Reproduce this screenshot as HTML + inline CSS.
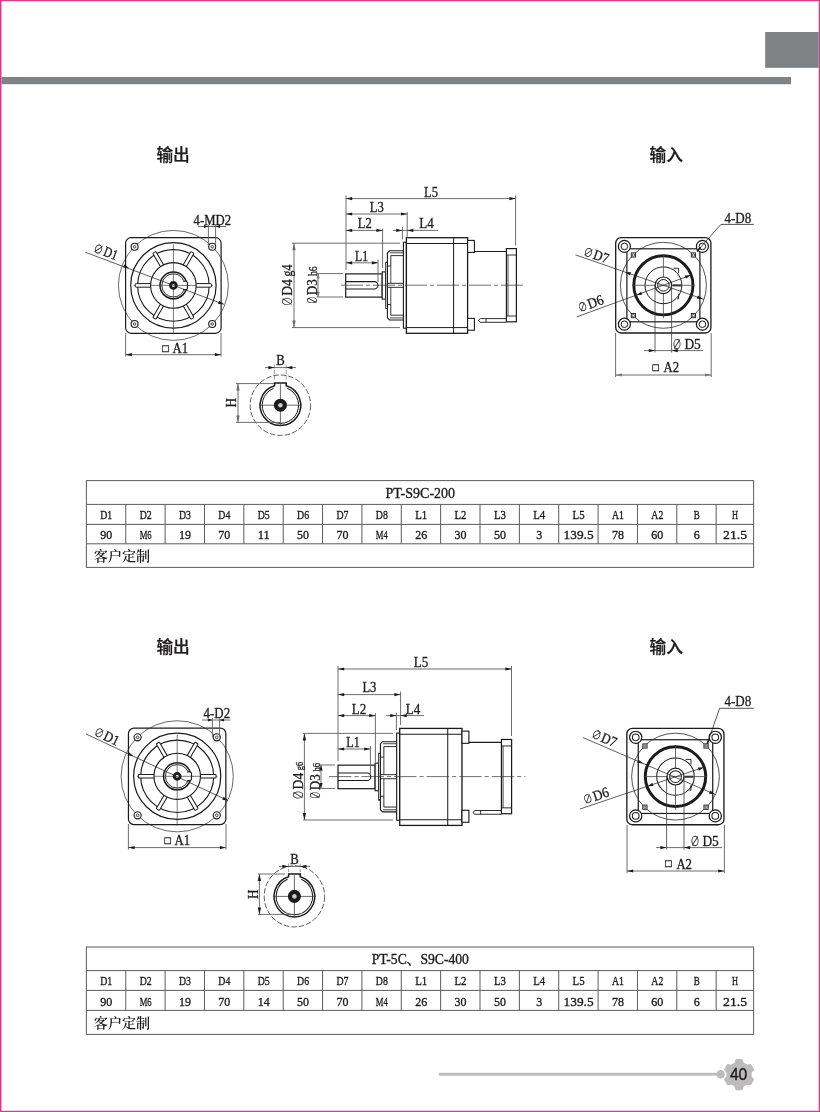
<!DOCTYPE html>
<html lang="zh-CN">
<head>
<meta charset="utf-8">
<title>PT-S9C-200 / PT-5C、S9C-400</title>
<style>
html,body{margin:0;padding:0;background:#fff;}
body{width:820px;height:1112px;overflow:hidden;position:relative;}
#page{position:absolute;left:0;top:0;width:820px;height:1112px;background:#fff;}
svg{position:absolute;left:0;top:0;display:block;will-change:transform;}
text{fill:#1c1a1a;}
.s{font-family:"Liberation Serif","Noto Serif CJK SC",serif;stroke:#1c1a1a;stroke-width:0.3px;}
.si{font-family:"Liberation Sans","Noto Sans CJK SC",sans-serif;font-style:italic;}
.a{font-family:"Liberation Sans","Noto Sans CJK SC",sans-serif;fill:#231f20;stroke:#231f20;stroke-width:0.4px;}
.h{font-family:"Liberation Sans","Noto Sans CJK SC",sans-serif;font-weight:500;stroke:#1c1a1a;stroke-width:0.25px;}
.t{font-family:"Liberation Serif","Noto Serif CJK SC",serif;stroke:#1c1a1a;stroke-width:0.35px;}
.c{font-family:"Liberation Serif","Noto Serif CJK SC",serif;font-weight:600;}
</style>
</head>
<body>
<div id="page"></div>
<svg width="820" height="1112" viewBox="0 0 820 1112">
<path d="M0 0H820V1112H0Z M1.5 1.2V1110.8H818.7V1.2Z" fill="#d83d8a" fill-rule="evenodd"/>
<rect x="1.5" y="77" width="789.5" height="7.2" fill="#808184"/>
<rect x="765.2" y="32" width="53.5" height="35.8" fill="#808184"/>
<rect x="439" y="1072.8" width="282" height="2.9" fill="#bcbcbd"/>
<circle cx="720.6" cy="1074.3" r="4.2" fill="#bcbcbd"/>
<polygon points="735.23,1063.35 736.38,1059.95 741.82,1059.95 742.97,1063.35 746.91,1065.62 750.43,1064.92 753.15,1069.63 750.78,1072.33 750.78,1076.87 753.15,1079.57 750.43,1084.28 746.91,1083.58 742.97,1085.85 741.82,1089.25 736.38,1089.25 735.23,1085.85 731.29,1083.58 727.77,1084.28 725.05,1079.57 727.42,1076.87 727.42,1072.33 725.05,1069.63 727.77,1064.92 731.29,1065.62" fill="#bcbcbd" stroke="#bcbcbd" stroke-width="1.8" stroke-linejoin="round"/>
<text class="a" x="738.6" y="1080.4" font-size="15.6" text-anchor="middle" textLength="17.4" lengthAdjust="spacingAndGlyphs">40</text>
<text class="h" x="173.1" y="160.8" font-size="16.7" text-anchor="middle">输出</text>
<text class="h" x="666.3" y="160.8" font-size="16.7" text-anchor="middle">输入</text>
<text class="h" x="173.1" y="652.8" font-size="16.7" text-anchor="middle">输出</text>
<text class="h" x="666.3" y="652.8" font-size="16.7" text-anchor="middle">输入</text>
<g transform="translate(173.4 285.4) scale(1 1)">
<rect x="-47.8" y="-47.7" width="95.5" height="95.6" rx="5.5" fill="none" stroke="#1c1a1a" stroke-width="1.2" />
<circle cx="0" cy="0" r="55" fill="none" stroke="#2a2a2a" stroke-width="0.7" />
<line x1="0" y1="-41" x2="0" y2="49" stroke="#444" stroke-width="0.7" />
<line x1="-39.5" y1="0" x2="39.5" y2="0" stroke="#444" stroke-width="0.7" />
<circle cx="0" cy="0" r="42.7" fill="none" stroke="#1c1a1a" stroke-width="1.2" />
<circle cx="0" cy="0" r="35.8" fill="none" stroke="#1c1a1a" stroke-width="1.1" />
<g transform="rotate(0)">
<path d="M22.6 -1.8 H37.3 Q38.1 -1.8 38.1 -1 V1 Q38.1 1.8 37.3 1.8 H22.6" fill="#fff" stroke="#1c1a1a" stroke-width="1.0" />
</g>
<g transform="rotate(60)">
<path d="M22.6 -1.8 H37.3 Q38.1 -1.8 38.1 -1 V1 Q38.1 1.8 37.3 1.8 H22.6" fill="#fff" stroke="#1c1a1a" stroke-width="1.0" />
</g>
<g transform="rotate(120)">
<path d="M22.6 -1.8 H37.3 Q38.1 -1.8 38.1 -1 V1 Q38.1 1.8 37.3 1.8 H22.6" fill="#fff" stroke="#1c1a1a" stroke-width="1.0" />
</g>
<g transform="rotate(180)">
<path d="M22.6 -1.8 H37.3 Q38.1 -1.8 38.1 -1 V1 Q38.1 1.8 37.3 1.8 H22.6" fill="#fff" stroke="#1c1a1a" stroke-width="1.0" />
</g>
<g transform="rotate(240)">
<path d="M22.6 -1.8 H37.3 Q38.1 -1.8 38.1 -1 V1 Q38.1 1.8 37.3 1.8 H22.6" fill="#fff" stroke="#1c1a1a" stroke-width="1.0" />
</g>
<g transform="rotate(300)">
<path d="M22.6 -1.8 H37.3 Q38.1 -1.8 38.1 -1 V1 Q38.1 1.8 37.3 1.8 H22.6" fill="#fff" stroke="#1c1a1a" stroke-width="1.0" />
</g>
<circle cx="0" cy="0" r="22.8" fill="none" stroke="#1c1a1a" stroke-width="1.1" />
<circle cx="0" cy="0" r="13.4" fill="#fff" stroke="#1c1a1a" stroke-width="1.5" />
<circle cx="0" cy="0" r="11.6" fill="none" stroke="#1c1a1a" stroke-width="0.9" />
<path d="M9.8 -4.2 H13.2 L14 -3 V3 L13.2 4.2 H9.8" fill="#fff" stroke="#1c1a1a" stroke-width="1.1" />
<line x1="-13" y1="0" x2="16" y2="0" stroke="#444" stroke-width="0.7" />
<line x1="0" y1="-13" x2="0" y2="13" stroke="#444" stroke-width="0.7" />
<circle cx="0" cy="0" r="2.9" fill="#eee" stroke="#1c1a1a" stroke-width="2.8" />
<circle cx="-38.8" cy="-38.6" r="3.5" fill="#fff" stroke="#1c1a1a" stroke-width="1.1" />
<circle cx="-38.8" cy="-38.6" r="1.3" fill="none" stroke="#1c1a1a" stroke-width="0.8" />
<circle cx="-38.8" cy="38.6" r="3.5" fill="#fff" stroke="#1c1a1a" stroke-width="1.1" />
<circle cx="-38.8" cy="38.6" r="1.3" fill="none" stroke="#1c1a1a" stroke-width="0.8" />
<circle cx="38.8" cy="-38.6" r="3.5" fill="#fff" stroke="#1c1a1a" stroke-width="1.1" />
<circle cx="38.8" cy="-38.6" r="1.3" fill="none" stroke="#1c1a1a" stroke-width="0.8" />
<circle cx="38.8" cy="38.6" r="3.5" fill="#fff" stroke="#1c1a1a" stroke-width="1.1" />
<circle cx="38.8" cy="38.6" r="1.3" fill="none" stroke="#1c1a1a" stroke-width="0.8" />
</g>
<line x1="85.5" y1="252.3" x2="223.8" y2="304.3" stroke="#2a2a2a" stroke-width="0.75" />
<polygon points="129,267.9 123.16,267.52 124.36,264.34" fill="#1c1a1a"/>
<polygon points="223.8,304.3 217.96,303.92 219.16,300.74" fill="#1c1a1a"/>
<g transform="translate(93.4 251.9) rotate(20.61)">
<text class="s" x="-0.6" y="0" font-size="12" textLength="9" lengthAdjust="spacingAndGlyphs">∅</text>
<text class="s" x="9.6" y="0" font-size="14.5" textLength="14.2" lengthAdjust="spacingAndGlyphs">D1</text>
</g>
<text class="s" x="193.6" y="224.6" font-size="14.3" text-anchor="start" textLength="37.4" lengthAdjust="spacingAndGlyphs" >4-MD2</text>
<line x1="198" y1="226.5" x2="226" y2="226.5" stroke="#5e5e5e" stroke-width="0.9" />
<line x1="208.4" y1="224.5" x2="208.4" y2="245" stroke="#5e5e5e" stroke-width="0.9" />
<line x1="215.6" y1="224.5" x2="215.6" y2="245" stroke="#5e5e5e" stroke-width="0.9" />
<polygon points="208.4,226.5 203.9,228.1 203.9,224.9" fill="#1c1a1a"/>
<polygon points="215.6,226.5 220.1,224.9 220.1,228.1" fill="#1c1a1a"/>
<line x1="125.6" y1="333" x2="125.6" y2="356.5" stroke="#5e5e5e" stroke-width="0.9" />
<line x1="221" y1="333" x2="221" y2="356.5" stroke="#5e5e5e" stroke-width="0.9" />
<line x1="125.6" y1="354.7" x2="221" y2="354.7" stroke="#5e5e5e" stroke-width="0.9" />
<polygon points="125.6,354.7 131.8,353.1 131.8,356.3" fill="#1c1a1a"/>
<polygon points="221,354.7 214.8,356.3 214.8,353.1" fill="#1c1a1a"/>
<text class="s" x="162.3" y="351.8" font-size="10.6" text-anchor="start" >□</text>
<text class="s" x="172.6" y="352.6" font-size="14" text-anchor="start" textLength="15.6" lengthAdjust="spacingAndGlyphs" >A1</text>
<g transform="matrix(1 0 0 1 0 0)">
<rect x="345.7" y="273.9" width="36.5" height="23.2" rx="0" fill="#fff" stroke="#1c1a1a" stroke-width="1.2" />
<path d="M345.7 281.6 H374.3 A3.7 3.7 0 0 1 374.3 289 H345.7" fill="none" stroke="#1c1a1a" stroke-width="1.1" />
<rect x="382.2" y="271.9" width="3.5" height="27.2" rx="0" fill="#fff" stroke="#1c1a1a" stroke-width="1.1" />
<rect x="385.7" y="262.2" width="1.8" height="46.3" rx="0" fill="#fff" stroke="#1c1a1a" stroke-width="0.9" />
<path d="M403.4 250.8 H389.5 L387.4 253 V317.8 L389.5 320 H403.4" fill="#fff" stroke="#1c1a1a" stroke-width="1.1" />
<path d="M403.4 252.8 H390" fill="none" stroke="#1c1a1a" stroke-width="0.8" />
<path d="M403.4 317.9 H390" fill="none" stroke="#1c1a1a" stroke-width="0.8" />
<path d="M403.4 255.6 H390.8 V266 H387.4" fill="none" stroke="#1c1a1a" stroke-width="0.9" />
<path d="M403.4 315.2 H390.8 V304.5 H387.4" fill="none" stroke="#1c1a1a" stroke-width="0.9" />
<line x1="390.8" y1="266" x2="390.8" y2="304.5" stroke="#1c1a1a" stroke-width="0.8" />
<rect x="387.4" y="283.3" width="16" height="4" rx="0" fill="#fff" stroke="#1c1a1a" stroke-width="0.9" />
<rect x="403.4" y="242.3" width="3" height="85.9" rx="0" fill="#fff" stroke="#1c1a1a" stroke-width="1.1" />
<rect x="406.4" y="237.7" width="61.2" height="95.6" rx="0" fill="#fff" stroke="#1c1a1a" stroke-width="1.3" />
<line x1="406.4" y1="243.5" x2="467.6" y2="243.5" stroke="#1c1a1a" stroke-width="1.0" />
<line x1="406.4" y1="327.6" x2="467.6" y2="327.6" stroke="#1c1a1a" stroke-width="1.0" />
<line x1="453.6" y1="237.7" x2="453.6" y2="333.3" stroke="#1c1a1a" stroke-width="1.0" />
<rect x="467.6" y="240.4" width="6.8" height="12" rx="0" fill="#fff" stroke="#1c1a1a" stroke-width="1.1" />
<rect x="467.6" y="318.4" width="6.8" height="11.8" rx="0" fill="#fff" stroke="#1c1a1a" stroke-width="1.1" />
<line x1="474.4" y1="251.5" x2="506.4" y2="251.5" stroke="#1c1a1a" stroke-width="1.1" />
<path d="M478.4 320.4 L480.5 318.6 H506.4 M478.4 320.4 L480 322.3 H506.4 M486 318.6 V322.3" fill="none" stroke="#1c1a1a" stroke-width="0.9" />
<rect x="506.4" y="248.6" width="10" height="73.2" rx="0" fill="#fff" stroke="#1c1a1a" stroke-width="1.2" />
<line x1="506.4" y1="255" x2="516.4" y2="255" stroke="#1c1a1a" stroke-width="0.9" />
<line x1="506.4" y1="316" x2="516.4" y2="316" stroke="#1c1a1a" stroke-width="0.9" />
<line x1="508" y1="255" x2="508" y2="316" stroke="#1c1a1a" stroke-width="0.8" />
<line x1="341" y1="285.2" x2="523" y2="285.2" stroke="#333" stroke-width="0.7" stroke-dasharray="22 3 4 3"/>
</g>
<line x1="346" y1="195.5" x2="346" y2="270" stroke="#5e5e5e" stroke-width="0.9" />
<line x1="515.6" y1="195.5" x2="515.6" y2="245.5" stroke="#5e5e5e" stroke-width="0.9" />
<line x1="346" y1="198.6" x2="515.6" y2="198.6" stroke="#5e5e5e" stroke-width="0.9" />
<polygon points="346,198.6 352.2,197 352.2,200.2" fill="#1c1a1a"/>
<polygon points="515.6,198.6 509.4,200.2 509.4,197" fill="#1c1a1a"/>
<text class="s" x="431" y="196.6" font-size="14.5" text-anchor="middle" textLength="14" lengthAdjust="spacingAndGlyphs" >L5</text>
<line x1="407.2" y1="212" x2="407.2" y2="238" stroke="#5e5e5e" stroke-width="0.9" />
<line x1="346" y1="214" x2="407.2" y2="214" stroke="#5e5e5e" stroke-width="0.9" />
<polygon points="346,214 352.2,212.4 352.2,215.6" fill="#1c1a1a"/>
<polygon points="407.2,214 401,215.6 401,212.4" fill="#1c1a1a"/>
<text class="s" x="376.8" y="212" font-size="14.5" text-anchor="middle" textLength="14" lengthAdjust="spacingAndGlyphs" >L3</text>
<line x1="382.6" y1="228.6" x2="382.6" y2="268" stroke="#5e5e5e" stroke-width="0.9" />
<line x1="346" y1="230.4" x2="382.6" y2="230.4" stroke="#5e5e5e" stroke-width="0.9" />
<polygon points="346,230.4 352.2,228.8 352.2,232" fill="#1c1a1a"/>
<polygon points="382.6,230.4 376.4,232 376.4,228.8" fill="#1c1a1a"/>
<text class="s" x="364.8" y="228.4" font-size="14.5" text-anchor="middle" textLength="14" lengthAdjust="spacingAndGlyphs" >L2</text>
<line x1="393" y1="230.4" x2="438" y2="230.4" stroke="#5e5e5e" stroke-width="0.9" />
<line x1="402.4" y1="227" x2="402.4" y2="239.5" stroke="#5e5e5e" stroke-width="0.9" />
<polygon points="402.4,230.4 396.2,232 396.2,228.8" fill="#1c1a1a"/>
<polygon points="407.2,230.4 413.4,228.8 413.4,232" fill="#1c1a1a"/>
<text class="s" x="426.5" y="228.4" font-size="14.5" text-anchor="middle" textLength="14.5" lengthAdjust="spacingAndGlyphs" >L4</text>
<line x1="378" y1="259.5" x2="378" y2="282" stroke="#5e5e5e" stroke-width="0.9" />
<line x1="346" y1="262.8" x2="378" y2="262.8" stroke="#5e5e5e" stroke-width="0.9" />
<polygon points="346,262.8 352.2,261.2 352.2,264.4" fill="#1c1a1a"/>
<polygon points="378,262.8 371.8,264.4 371.8,261.2" fill="#1c1a1a"/>
<text class="s" x="361.6" y="261" font-size="14.5" text-anchor="middle" textLength="13" lengthAdjust="spacingAndGlyphs" >L1</text>
<line x1="292" y1="243.2" x2="400" y2="243.2" stroke="#5e5e5e" stroke-width="0.9" />
<line x1="292" y1="327.6" x2="400" y2="327.6" stroke="#5e5e5e" stroke-width="0.9" />
<line x1="294" y1="243.2" x2="294" y2="327.6" stroke="#5e5e5e" stroke-width="0.9" />
<polygon points="294,243.2 295.7,250.2 292.3,250.2" fill="#6a6a6a"/>
<polygon points="294,327.6 292.3,320.6 295.7,320.6" fill="#6a6a6a"/>
<g transform="translate(292.4 305.4) rotate(-90)">
<text class="s" x="-0.6" y="0" font-size="12" textLength="9" lengthAdjust="spacingAndGlyphs">∅</text>
<text class="s" x="9.6" y="0" font-size="15" textLength="16.6" lengthAdjust="spacingAndGlyphs">D4</text>
<text class="s" x="29" y="0" font-size="15" textLength="11.7" lengthAdjust="spacingAndGlyphs">g4</text>
</g>
<line x1="316.5" y1="273.6" x2="343" y2="273.6" stroke="#5e5e5e" stroke-width="0.9" />
<line x1="316.5" y1="297" x2="343" y2="297" stroke="#5e5e5e" stroke-width="0.9" />
<line x1="318" y1="273.6" x2="318" y2="297" stroke="#5e5e5e" stroke-width="0.9" />
<polygon points="318.2,273.6 319.7,278.6 316.7,278.6" fill="#777"/>
<polygon points="318.2,297 316.7,292 319.7,292" fill="#777"/>
<g transform="translate(317 303.4) rotate(-90)">
<text class="s" x="-0.6" y="0" font-size="12" textLength="7.6" lengthAdjust="spacingAndGlyphs">∅</text>
<text class="s" x="8.2" y="0" font-size="15" textLength="16" lengthAdjust="spacingAndGlyphs">D3</text>
<text class="s" x="27.4" y="0" font-size="12" textLength="9.7" lengthAdjust="spacingAndGlyphs">h6</text>
</g>
<g transform="translate(663.4 285.3) scale(1 1)">
<rect x="-47.7" y="-47.7" width="95.2" height="95.4" rx="5.5" fill="none" stroke="#1c1a1a" stroke-width="1.3" />
<rect x="-36.5" y="-36.5" width="73" height="73" rx="0" fill="none" stroke="#1c1a1a" stroke-width="1.2" />
<circle cx="0" cy="0" r="43" fill="none" stroke="#2a2a2a" stroke-width="0.8" />
<circle cx="-39" cy="-38.9" r="6" fill="#fff" stroke="#1c1a1a" stroke-width="1.2" />
<circle cx="-39" cy="-38.9" r="3.3" fill="none" stroke="#1c1a1a" stroke-width="1.0" />
<circle cx="-39" cy="38.9" r="6" fill="#fff" stroke="#1c1a1a" stroke-width="1.2" />
<circle cx="-39" cy="38.9" r="3.3" fill="none" stroke="#1c1a1a" stroke-width="1.0" />
<circle cx="39" cy="-38.9" r="6" fill="#fff" stroke="#1c1a1a" stroke-width="1.2" />
<circle cx="39" cy="-38.9" r="3.3" fill="none" stroke="#1c1a1a" stroke-width="1.0" />
<circle cx="39" cy="38.9" r="6" fill="#fff" stroke="#1c1a1a" stroke-width="1.2" />
<circle cx="39" cy="38.9" r="3.3" fill="none" stroke="#1c1a1a" stroke-width="1.0" />
<rect x="-32.1" y="-32.4" width="4.2" height="4.2" rx="0" fill="#fff" stroke="#1c1a1a" stroke-width="0.9" />
<circle cx="-30" cy="-30.3" r="1.2" fill="none" stroke="#1c1a1a" stroke-width="0.7" />
<rect x="-32.1" y="28.2" width="4.2" height="4.2" rx="0" fill="#fff" stroke="#1c1a1a" stroke-width="0.9" />
<circle cx="-30" cy="30.3" r="1.2" fill="none" stroke="#1c1a1a" stroke-width="0.7" />
<rect x="27.9" y="-32.4" width="4.2" height="4.2" rx="0" fill="#fff" stroke="#1c1a1a" stroke-width="0.9" />
<circle cx="30" cy="-30.3" r="1.2" fill="none" stroke="#1c1a1a" stroke-width="0.7" />
<rect x="27.9" y="28.2" width="4.2" height="4.2" rx="0" fill="#fff" stroke="#1c1a1a" stroke-width="0.9" />
<circle cx="30" cy="30.3" r="1.2" fill="none" stroke="#1c1a1a" stroke-width="0.7" />
<circle cx="0" cy="0" r="29.6" fill="none" stroke="#1c1a1a" stroke-width="2.9" />
<circle cx="0" cy="0" r="18.4" fill="none" stroke="#1c1a1a" stroke-width="1.0" />
<line x1="0" y1="-31" x2="0" y2="33" stroke="#444" stroke-width="0.8" />
<line x1="-31" y1="0" x2="31" y2="0" stroke="#444" stroke-width="0.8" />
<path d="M10 -17 h5.2 v5" fill="none" stroke="#1c1a1a" stroke-width="0.9" />
<path d="M15.2 8.5 v5 h-1.5" fill="none" stroke="#1c1a1a" stroke-width="0.9" />
<circle cx="0" cy="0" r="8.3" fill="#fff" stroke="#1c1a1a" stroke-width="1.2" />
<circle cx="0" cy="0" r="5.8" fill="none" stroke="#1c1a1a" stroke-width="1.0" />
<line x1="-5" y1="0" x2="5" y2="0" stroke="#5e5e5e" stroke-width="0.8" />
<line x1="9.2" y1="0.1" x2="17.6" y2="0.1" stroke="#333" stroke-width="2.0" />
</g>
<line x1="575.5" y1="254.9" x2="704" y2="299.4" stroke="#2a2a2a" stroke-width="0.75" />
<polygon points="625.2,272.1 631.05,272.33 629.94,275.54" fill="#1c1a1a"/>
<polygon points="702.6,298.9 696.75,298.67 697.86,295.46" fill="#1c1a1a"/>
<g transform="translate(583.2 255.4) rotate(19.1)">
<text class="s" x="-0.6" y="0" font-size="12" textLength="9" lengthAdjust="spacingAndGlyphs">∅</text>
<text class="s" x="9.6" y="0" font-size="14.5" textLength="15.5" lengthAdjust="spacingAndGlyphs">D7</text>
</g>
<line x1="691.5" y1="274.9" x2="576.7" y2="316.9" stroke="#2a2a2a" stroke-width="0.75" />
<polygon points="690.6,275.2 685.93,278.72 684.76,275.53" fill="#1c1a1a"/>
<polygon points="636.4,295.2 641.07,291.68 642.24,294.87" fill="#1c1a1a"/>
<g transform="translate(580.6 312.4) rotate(339.9)">
<text class="s" x="-0.6" y="0" font-size="12" textLength="9" lengthAdjust="spacingAndGlyphs">∅</text>
<text class="s" x="9.6" y="0" font-size="14.5" textLength="16" lengthAdjust="spacingAndGlyphs">D6</text>
</g>
<line x1="655" y1="285" x2="655" y2="352.5" stroke="#3a3a3a" stroke-width="0.8" />
<line x1="671.6" y1="285" x2="671.6" y2="352.5" stroke="#3a3a3a" stroke-width="0.8" />
<line x1="644" y1="350.6" x2="703" y2="350.6" stroke="#5e5e5e" stroke-width="0.9" />
<polygon points="655,350.6 648.8,352.2 648.8,349" fill="#1c1a1a"/>
<polygon points="671.6,350.6 677.8,349 677.8,352.2" fill="#1c1a1a"/>
<g transform="translate(673 349) rotate(0)">
<text class="s" x="-0.6" y="0" font-size="12" textLength="9" lengthAdjust="spacingAndGlyphs">∅</text>
<text class="s" x="11.4" y="0" font-size="14.5" textLength="16.4" lengthAdjust="spacingAndGlyphs">D5</text>
</g>
<line x1="615.6" y1="333" x2="615.6" y2="377" stroke="#5e5e5e" stroke-width="0.9" />
<line x1="711.2" y1="333" x2="711.2" y2="377" stroke="#5e5e5e" stroke-width="0.9" />
<line x1="615.6" y1="375" x2="711.2" y2="375" stroke="#5e5e5e" stroke-width="0.9" />
<polygon points="615.6,375 621.8,373.4 621.8,376.6" fill="#777"/>
<polygon points="711.2,375 705,376.6 705,373.4" fill="#777"/>
<text class="s" x="652.6" y="371.2" font-size="10.6" text-anchor="start" >□</text>
<text class="s" x="663.6" y="372.4" font-size="14" text-anchor="start" textLength="15.6" lengthAdjust="spacingAndGlyphs" >A2</text>
<path d="M697.5 250.8 L720.9 224.4 H753.8" fill="none" stroke="#2a2a2a" stroke-width="0.8" />
<line x1="697" y1="251.4" x2="700.5" y2="247.4" stroke="#1c1a1a" stroke-width="1.6" />
<text class="s" x="724.5" y="223" font-size="15.5" text-anchor="start" textLength="26.8" lengthAdjust="spacingAndGlyphs" >4-D8</text>
<g transform="translate(280.4 405.2) scale(1 1)">
<circle cx="0" cy="0" r="30.2" fill="none" stroke="#333" stroke-width="0.8" stroke-dasharray="5.5 2"/>
<path d="M-5.8 -19.4 A20.3 20.3 0 1 0 5.8 -19.4 V-22.2 H-5.8 Z" fill="#fff" stroke="#1c1a1a" stroke-width="1.5" />
<path d="M-6.8 -16.9 A18.2 18.2 0 1 0 6.8 -16.9" fill="none" stroke="#1c1a1a" stroke-width="1.0" />
<line x1="-21.5" y1="0" x2="21.5" y2="0" stroke="#444" stroke-width="0.8" />
<line x1="0" y1="-21" x2="0" y2="21" stroke="#444" stroke-width="0.8" />
<circle cx="0" cy="0" r="4.4" fill="#ccc" stroke="#1c1a1a" stroke-width="4.2" />
</g>
<line x1="236" y1="383.6" x2="274" y2="383.6" stroke="#5e5e5e" stroke-width="0.9" />
<line x1="236" y1="422.4" x2="280" y2="422.4" stroke="#5e5e5e" stroke-width="0.9" />
<line x1="238" y1="383.6" x2="238" y2="422.4" stroke="#5e5e5e" stroke-width="0.9" />
<polygon points="238,383.6 239.7,390.6 236.3,390.6" fill="#6a6a6a"/>
<polygon points="238,422.4 236.3,415.4 239.7,415.4" fill="#6a6a6a"/>
<text class="s" x="236.5" y="402.8" font-size="14" text-anchor="middle" textLength="9.5" lengthAdjust="spacingAndGlyphs" transform="rotate(-90 236.5 402.8)" >H</text>
<line x1="265" y1="367.6" x2="296" y2="367.6" stroke="#5e5e5e" stroke-width="0.9" />
<line x1="274.6" y1="364.5" x2="274.6" y2="381" stroke="#5e5e5e" stroke-width="0.6" stroke-dasharray="4 1.5"/>
<line x1="286.2" y1="364.5" x2="286.2" y2="381" stroke="#5e5e5e" stroke-width="0.6" stroke-dasharray="4 1.5"/>
<polygon points="274.6,367.6 268.4,369.2 268.4,366" fill="#1c1a1a"/>
<polygon points="286.2,367.6 292.4,366 292.4,369.2" fill="#1c1a1a"/>
<text class="s" x="280.6" y="365.4" font-size="14" text-anchor="middle" textLength="8.5" lengthAdjust="spacingAndGlyphs" >B</text>
<g transform="translate(177.2 776.3) scale(1.02 1.01)">
<rect x="-47.8" y="-47.7" width="95.5" height="95.6" rx="5.5" fill="none" stroke="#1c1a1a" stroke-width="1.2" />
<circle cx="0" cy="0" r="55" fill="none" stroke="#2a2a2a" stroke-width="0.7" />
<line x1="0" y1="-41" x2="0" y2="49" stroke="#444" stroke-width="0.7" />
<line x1="-39.5" y1="0" x2="39.5" y2="0" stroke="#444" stroke-width="0.7" />
<circle cx="0" cy="0" r="42.7" fill="none" stroke="#1c1a1a" stroke-width="1.2" />
<circle cx="0" cy="0" r="35.8" fill="none" stroke="#1c1a1a" stroke-width="1.1" />
<g transform="rotate(0)">
<path d="M22.6 -1.8 H37.3 Q38.1 -1.8 38.1 -1 V1 Q38.1 1.8 37.3 1.8 H22.6" fill="#fff" stroke="#1c1a1a" stroke-width="1.0" />
</g>
<g transform="rotate(60)">
<path d="M22.6 -1.8 H37.3 Q38.1 -1.8 38.1 -1 V1 Q38.1 1.8 37.3 1.8 H22.6" fill="#fff" stroke="#1c1a1a" stroke-width="1.0" />
</g>
<g transform="rotate(120)">
<path d="M22.6 -1.8 H37.3 Q38.1 -1.8 38.1 -1 V1 Q38.1 1.8 37.3 1.8 H22.6" fill="#fff" stroke="#1c1a1a" stroke-width="1.0" />
</g>
<g transform="rotate(180)">
<path d="M22.6 -1.8 H37.3 Q38.1 -1.8 38.1 -1 V1 Q38.1 1.8 37.3 1.8 H22.6" fill="#fff" stroke="#1c1a1a" stroke-width="1.0" />
</g>
<g transform="rotate(240)">
<path d="M22.6 -1.8 H37.3 Q38.1 -1.8 38.1 -1 V1 Q38.1 1.8 37.3 1.8 H22.6" fill="#fff" stroke="#1c1a1a" stroke-width="1.0" />
</g>
<g transform="rotate(300)">
<path d="M22.6 -1.8 H37.3 Q38.1 -1.8 38.1 -1 V1 Q38.1 1.8 37.3 1.8 H22.6" fill="#fff" stroke="#1c1a1a" stroke-width="1.0" />
</g>
<circle cx="0" cy="0" r="22.8" fill="none" stroke="#1c1a1a" stroke-width="1.1" />
<circle cx="0" cy="0" r="13.4" fill="#fff" stroke="#1c1a1a" stroke-width="1.5" />
<circle cx="0" cy="0" r="11.6" fill="none" stroke="#1c1a1a" stroke-width="0.9" />
<path d="M9.8 -4.2 H13.2 L14 -3 V3 L13.2 4.2 H9.8" fill="#fff" stroke="#1c1a1a" stroke-width="1.1" />
<line x1="-13" y1="0" x2="16" y2="0" stroke="#444" stroke-width="0.7" />
<line x1="0" y1="-13" x2="0" y2="13" stroke="#444" stroke-width="0.7" />
<circle cx="0" cy="0" r="2.9" fill="#eee" stroke="#1c1a1a" stroke-width="2.8" />
<circle cx="-38.8" cy="-38.6" r="3.5" fill="#fff" stroke="#1c1a1a" stroke-width="1.1" />
<circle cx="-38.8" cy="-38.6" r="1.3" fill="none" stroke="#1c1a1a" stroke-width="0.8" />
<circle cx="-38.8" cy="38.6" r="3.5" fill="#fff" stroke="#1c1a1a" stroke-width="1.1" />
<circle cx="-38.8" cy="38.6" r="1.3" fill="none" stroke="#1c1a1a" stroke-width="0.8" />
<circle cx="38.8" cy="-38.6" r="3.5" fill="#fff" stroke="#1c1a1a" stroke-width="1.1" />
<circle cx="38.8" cy="-38.6" r="1.3" fill="none" stroke="#1c1a1a" stroke-width="0.8" />
<circle cx="38.8" cy="38.6" r="3.5" fill="#fff" stroke="#1c1a1a" stroke-width="1.1" />
<circle cx="38.8" cy="38.6" r="1.3" fill="none" stroke="#1c1a1a" stroke-width="0.8" />
</g>
<line x1="86" y1="734" x2="228" y2="800.6" stroke="#2a2a2a" stroke-width="0.75" />
<polygon points="133.4,756.2 127.61,755.36 129.05,752.28" fill="#1c1a1a"/>
<polygon points="228,800.6 222.21,799.76 223.65,796.68" fill="#1c1a1a"/>
<g transform="translate(93.9 735.2) rotate(25.13)">
<text class="s" x="-0.6" y="0" font-size="12" textLength="9" lengthAdjust="spacingAndGlyphs">∅</text>
<text class="s" x="9.6" y="0" font-size="14.5" textLength="15.5" lengthAdjust="spacingAndGlyphs">D1</text>
</g>
<text class="s" x="203.6" y="717.6" font-size="14" text-anchor="start" textLength="26.5" lengthAdjust="spacingAndGlyphs" >4-D2</text>
<line x1="202" y1="720" x2="230.4" y2="720" stroke="#5e5e5e" stroke-width="0.9" />
<line x1="212.4" y1="718" x2="212.4" y2="737" stroke="#5e5e5e" stroke-width="0.9" />
<line x1="219.6" y1="718" x2="219.6" y2="737" stroke="#5e5e5e" stroke-width="0.9" />
<polygon points="212.4,720 207.9,721.6 207.9,718.4" fill="#1c1a1a"/>
<polygon points="219.6,720 224.1,718.4 224.1,721.6" fill="#1c1a1a"/>
<line x1="128.4" y1="824" x2="128.4" y2="849.6" stroke="#5e5e5e" stroke-width="0.9" />
<line x1="226" y1="824" x2="226" y2="849.6" stroke="#5e5e5e" stroke-width="0.9" />
<line x1="128.4" y1="847.6" x2="226" y2="847.6" stroke="#5e5e5e" stroke-width="0.9" />
<polygon points="128.4,847.6 134.6,846 134.6,849.2" fill="#1c1a1a"/>
<polygon points="226,847.6 219.8,849.2 219.8,846" fill="#1c1a1a"/>
<text class="s" x="164.4" y="844.2" font-size="10.6" text-anchor="start" >□</text>
<text class="s" x="174.6" y="845" font-size="14" text-anchor="start" textLength="15.6" lengthAdjust="spacingAndGlyphs" >A1</text>
<g transform="matrix(1.017 0 0 1.0146 -13.58 487.25)">
<rect x="345.7" y="273.9" width="36.5" height="23.2" rx="0" fill="#fff" stroke="#1c1a1a" stroke-width="1.2" />
<path d="M345.7 281.6 H374.3 A3.7 3.7 0 0 1 374.3 289 H345.7" fill="none" stroke="#1c1a1a" stroke-width="1.1" />
<rect x="382.2" y="271.9" width="3.5" height="27.2" rx="0" fill="#fff" stroke="#1c1a1a" stroke-width="1.1" />
<rect x="385.7" y="262.2" width="1.8" height="46.3" rx="0" fill="#fff" stroke="#1c1a1a" stroke-width="0.9" />
<path d="M403.4 250.8 H389.5 L387.4 253 V317.8 L389.5 320 H403.4" fill="#fff" stroke="#1c1a1a" stroke-width="1.1" />
<path d="M403.4 252.8 H390" fill="none" stroke="#1c1a1a" stroke-width="0.8" />
<path d="M403.4 317.9 H390" fill="none" stroke="#1c1a1a" stroke-width="0.8" />
<path d="M403.4 255.6 H390.8 V266 H387.4" fill="none" stroke="#1c1a1a" stroke-width="0.9" />
<path d="M403.4 315.2 H390.8 V304.5 H387.4" fill="none" stroke="#1c1a1a" stroke-width="0.9" />
<line x1="390.8" y1="266" x2="390.8" y2="304.5" stroke="#1c1a1a" stroke-width="0.8" />
<rect x="387.4" y="283.3" width="16" height="4" rx="0" fill="#fff" stroke="#1c1a1a" stroke-width="0.9" />
<rect x="403.4" y="242.3" width="3" height="85.9" rx="0" fill="#fff" stroke="#1c1a1a" stroke-width="1.1" />
<rect x="406.4" y="237.7" width="61.2" height="95.6" rx="0" fill="#fff" stroke="#1c1a1a" stroke-width="1.3" />
<line x1="406.4" y1="243.5" x2="467.6" y2="243.5" stroke="#1c1a1a" stroke-width="1.0" />
<line x1="406.4" y1="327.6" x2="467.6" y2="327.6" stroke="#1c1a1a" stroke-width="1.0" />
<line x1="453.6" y1="237.7" x2="453.6" y2="333.3" stroke="#1c1a1a" stroke-width="1.0" />
<rect x="467.6" y="240.4" width="6.8" height="12" rx="0" fill="#fff" stroke="#1c1a1a" stroke-width="1.1" />
<rect x="467.6" y="318.4" width="6.8" height="11.8" rx="0" fill="#fff" stroke="#1c1a1a" stroke-width="1.1" />
<line x1="474.4" y1="251.5" x2="506.4" y2="251.5" stroke="#1c1a1a" stroke-width="1.1" />
<path d="M478.4 320.4 L480.5 318.6 H506.4 M478.4 320.4 L480 322.3 H506.4 M486 318.6 V322.3" fill="none" stroke="#1c1a1a" stroke-width="0.9" />
<rect x="506.4" y="248.6" width="10" height="73.2" rx="0" fill="#fff" stroke="#1c1a1a" stroke-width="1.2" />
<line x1="506.4" y1="255" x2="516.4" y2="255" stroke="#1c1a1a" stroke-width="0.9" />
<line x1="506.4" y1="316" x2="516.4" y2="316" stroke="#1c1a1a" stroke-width="0.9" />
<line x1="508" y1="255" x2="508" y2="316" stroke="#1c1a1a" stroke-width="0.8" />
<line x1="336.9" y1="285.2" x2="530" y2="285.2" stroke="#333" stroke-width="0.7" stroke-dasharray="22 3 4 3"/>
</g>
<line x1="338" y1="666" x2="338" y2="761" stroke="#5e5e5e" stroke-width="0.9" />
<line x1="511.5" y1="666" x2="511.5" y2="736" stroke="#5e5e5e" stroke-width="0.9" />
<line x1="338" y1="669" x2="511.5" y2="669" stroke="#5e5e5e" stroke-width="0.9" />
<polygon points="338,669 344.2,667.4 344.2,670.6" fill="#1c1a1a"/>
<polygon points="511.5,669 505.3,670.6 505.3,667.4" fill="#1c1a1a"/>
<text class="s" x="421" y="667" font-size="14.5" text-anchor="middle" textLength="14.5" lengthAdjust="spacingAndGlyphs" >L5</text>
<line x1="400.6" y1="691.5" x2="400.6" y2="725" stroke="#5e5e5e" stroke-width="0.9" />
<line x1="338" y1="694.6" x2="400.6" y2="694.6" stroke="#5e5e5e" stroke-width="0.9" />
<polygon points="338,694.6 344.2,693 344.2,696.2" fill="#1c1a1a"/>
<polygon points="400.6,694.6 394.4,696.2 394.4,693" fill="#1c1a1a"/>
<text class="s" x="369.4" y="692.4" font-size="14.5" text-anchor="middle" textLength="14" lengthAdjust="spacingAndGlyphs" >L3</text>
<line x1="375.4" y1="713" x2="375.4" y2="762" stroke="#5e5e5e" stroke-width="0.9" />
<line x1="338" y1="715.6" x2="375.4" y2="715.6" stroke="#5e5e5e" stroke-width="0.9" />
<polygon points="338,715.6 344.2,714 344.2,717.2" fill="#1c1a1a"/>
<polygon points="375.4,715.6 369.2,717.2 369.2,714" fill="#1c1a1a"/>
<text class="s" x="359" y="713.6" font-size="14.5" text-anchor="middle" textLength="14.5" lengthAdjust="spacingAndGlyphs" >L2</text>
<line x1="386" y1="715.6" x2="424" y2="715.6" stroke="#5e5e5e" stroke-width="0.9" />
<line x1="396.4" y1="712.5" x2="396.4" y2="730" stroke="#5e5e5e" stroke-width="0.9" />
<polygon points="396.4,715.6 390.2,717.2 390.2,714" fill="#1c1a1a"/>
<polygon points="400.6,715.6 406.8,714 406.8,717.2" fill="#1c1a1a"/>
<text class="s" x="413" y="713.6" font-size="14.5" text-anchor="middle" textLength="14.5" lengthAdjust="spacingAndGlyphs" >L4</text>
<line x1="370.4" y1="746" x2="370.4" y2="774" stroke="#5e5e5e" stroke-width="0.9" />
<line x1="338" y1="749" x2="370.4" y2="749" stroke="#5e5e5e" stroke-width="0.9" />
<polygon points="338,749 344.2,747.4 344.2,750.6" fill="#1c1a1a"/>
<polygon points="370.4,749 364.2,750.6 364.2,747.4" fill="#1c1a1a"/>
<text class="s" x="353" y="747" font-size="14.5" text-anchor="middle" textLength="13.5" lengthAdjust="spacingAndGlyphs" >L1</text>
<line x1="303" y1="733.4" x2="393" y2="733.4" stroke="#5e5e5e" stroke-width="0.9" />
<line x1="303" y1="820" x2="393" y2="820" stroke="#5e5e5e" stroke-width="0.9" />
<line x1="304.4" y1="733.4" x2="304.4" y2="820" stroke="#5e5e5e" stroke-width="0.9" />
<polygon points="304.4,733.4 306.1,740.4 302.7,740.4" fill="#1c1a1a"/>
<polygon points="304.4,820 302.7,813 306.1,813" fill="#1c1a1a"/>
<g transform="translate(303.4 799) rotate(-90)">
<text class="s" x="-0.6" y="0" font-size="12" textLength="9" lengthAdjust="spacingAndGlyphs">∅</text>
<text class="s" x="9.6" y="0" font-size="15" textLength="16.6" lengthAdjust="spacingAndGlyphs">D4</text>
<text class="s" x="28.8" y="0" font-size="10" textLength="8.4" lengthAdjust="spacingAndGlyphs">g6</text>
</g>
<line x1="319.5" y1="765" x2="335" y2="765" stroke="#5e5e5e" stroke-width="0.9" />
<line x1="319.5" y1="788.4" x2="335" y2="788.4" stroke="#5e5e5e" stroke-width="0.9" />
<line x1="321" y1="765" x2="321" y2="788.4" stroke="#5e5e5e" stroke-width="0.9" />
<polygon points="321,765 322.6,770.5 319.4,770.5" fill="#1c1a1a"/>
<polygon points="321,788.4 319.4,782.9 322.6,782.9" fill="#1c1a1a"/>
<g transform="translate(320 798.4) rotate(-90)">
<text class="s" x="-0.6" y="0" font-size="12" textLength="7.6" lengthAdjust="spacingAndGlyphs">∅</text>
<text class="s" x="8.2" y="0" font-size="15" textLength="16" lengthAdjust="spacingAndGlyphs">D3</text>
<text class="s" x="26.8" y="0" font-size="10.5" textLength="8.6" lengthAdjust="spacingAndGlyphs">h6</text>
</g>
<g transform="translate(675.5 776.6) scale(1.02 1.01)">
<rect x="-47.7" y="-47.7" width="95.2" height="95.4" rx="5.5" fill="none" stroke="#1c1a1a" stroke-width="1.3" />
<rect x="-36.5" y="-36.5" width="73" height="73" rx="0" fill="none" stroke="#1c1a1a" stroke-width="1.2" />
<circle cx="0" cy="0" r="43" fill="none" stroke="#2a2a2a" stroke-width="0.8" />
<circle cx="-39" cy="-38.9" r="6" fill="#fff" stroke="#1c1a1a" stroke-width="1.2" />
<circle cx="-39" cy="-38.9" r="3.3" fill="none" stroke="#1c1a1a" stroke-width="1.0" />
<circle cx="-39" cy="38.9" r="6" fill="#fff" stroke="#1c1a1a" stroke-width="1.2" />
<circle cx="-39" cy="38.9" r="3.3" fill="none" stroke="#1c1a1a" stroke-width="1.0" />
<circle cx="39" cy="-38.9" r="6" fill="#fff" stroke="#1c1a1a" stroke-width="1.2" />
<circle cx="39" cy="-38.9" r="3.3" fill="none" stroke="#1c1a1a" stroke-width="1.0" />
<circle cx="39" cy="38.9" r="6" fill="#fff" stroke="#1c1a1a" stroke-width="1.2" />
<circle cx="39" cy="38.9" r="3.3" fill="none" stroke="#1c1a1a" stroke-width="1.0" />
<rect x="-32.1" y="-32.4" width="4.2" height="4.2" rx="0" fill="#fff" stroke="#1c1a1a" stroke-width="0.9" />
<circle cx="-30" cy="-30.3" r="1.2" fill="none" stroke="#1c1a1a" stroke-width="0.7" />
<rect x="-32.1" y="28.2" width="4.2" height="4.2" rx="0" fill="#fff" stroke="#1c1a1a" stroke-width="0.9" />
<circle cx="-30" cy="30.3" r="1.2" fill="none" stroke="#1c1a1a" stroke-width="0.7" />
<rect x="27.9" y="-32.4" width="4.2" height="4.2" rx="0" fill="#fff" stroke="#1c1a1a" stroke-width="0.9" />
<circle cx="30" cy="-30.3" r="1.2" fill="none" stroke="#1c1a1a" stroke-width="0.7" />
<rect x="27.9" y="28.2" width="4.2" height="4.2" rx="0" fill="#fff" stroke="#1c1a1a" stroke-width="0.9" />
<circle cx="30" cy="30.3" r="1.2" fill="none" stroke="#1c1a1a" stroke-width="0.7" />
<circle cx="0" cy="0" r="29.6" fill="none" stroke="#1c1a1a" stroke-width="2.9" />
<circle cx="0" cy="0" r="18.4" fill="none" stroke="#1c1a1a" stroke-width="1.0" />
<line x1="0" y1="-31" x2="0" y2="33" stroke="#444" stroke-width="0.8" />
<line x1="-31" y1="0" x2="31" y2="0" stroke="#444" stroke-width="0.8" />
<path d="M10 -17 h5.2 v5" fill="none" stroke="#1c1a1a" stroke-width="0.9" />
<path d="M15.2 8.5 v5 h-1.5" fill="none" stroke="#1c1a1a" stroke-width="0.9" />
<circle cx="0" cy="0" r="8.3" fill="#fff" stroke="#1c1a1a" stroke-width="1.2" />
<circle cx="0" cy="0" r="5.8" fill="none" stroke="#1c1a1a" stroke-width="1.0" />
<line x1="-5" y1="0" x2="5" y2="0" stroke="#5e5e5e" stroke-width="0.8" />
<line x1="9.2" y1="0.1" x2="17.6" y2="0.1" stroke="#333" stroke-width="2.0" />
</g>
<line x1="583" y1="737.6" x2="715.5" y2="794.6" stroke="#2a2a2a" stroke-width="0.75" />
<polygon points="643,763.4 637.18,762.75 638.53,759.63" fill="#1c1a1a"/>
<polygon points="714.8,794.3 708.98,793.65 710.33,790.53" fill="#1c1a1a"/>
<g transform="translate(591.2 737.4) rotate(23.28)">
<text class="s" x="-0.6" y="0" font-size="12" textLength="9" lengthAdjust="spacingAndGlyphs">∅</text>
<text class="s" x="9.6" y="0" font-size="14.5" textLength="15.5" lengthAdjust="spacingAndGlyphs">D7</text>
</g>
<line x1="704" y1="767.2" x2="580" y2="809" stroke="#2a2a2a" stroke-width="0.75" />
<polygon points="703.6,767.4 698.84,770.8 697.75,767.58" fill="#1c1a1a"/>
<polygon points="647.6,786.2 652.36,782.8 653.45,786.02" fill="#1c1a1a"/>
<g transform="translate(585.6 804.2) rotate(341.37)">
<text class="s" x="-0.6" y="0" font-size="12" textLength="9" lengthAdjust="spacingAndGlyphs">∅</text>
<text class="s" x="9.6" y="0" font-size="14.5" textLength="16" lengthAdjust="spacingAndGlyphs">D6</text>
</g>
<line x1="666.6" y1="776.6" x2="666.6" y2="849.5" stroke="#3a3a3a" stroke-width="0.8" />
<line x1="684" y1="776.6" x2="684" y2="849.5" stroke="#3a3a3a" stroke-width="0.8" />
<line x1="656" y1="847.6" x2="722" y2="847.6" stroke="#5e5e5e" stroke-width="0.9" />
<polygon points="666.6,847.6 660.4,849.2 660.4,846" fill="#1c1a1a"/>
<polygon points="684,847.6 690.2,846 690.2,849.2" fill="#1c1a1a"/>
<g transform="translate(691 846) rotate(0)">
<text class="s" x="-0.6" y="0" font-size="12" textLength="9" lengthAdjust="spacingAndGlyphs">∅</text>
<text class="s" x="11.4" y="0" font-size="14.5" textLength="16.4" lengthAdjust="spacingAndGlyphs">D5</text>
</g>
<line x1="627" y1="825" x2="627" y2="873" stroke="#5e5e5e" stroke-width="0.9" />
<line x1="724.4" y1="825" x2="724.4" y2="873" stroke="#5e5e5e" stroke-width="0.9" />
<line x1="627" y1="871" x2="724.4" y2="871" stroke="#5e5e5e" stroke-width="0.9" />
<polygon points="627,871 633.2,869.4 633.2,872.6" fill="#1c1a1a"/>
<polygon points="724.4,871 718.2,872.6 718.2,869.4" fill="#1c1a1a"/>
<text class="s" x="665.2" y="867.2" font-size="10.6" text-anchor="start" >□</text>
<text class="s" x="676.4" y="869" font-size="14" text-anchor="start" textLength="15.6" lengthAdjust="spacingAndGlyphs" >A2</text>
<path d="M707.4 743.4 L719.6 708.3 H753.8" fill="none" stroke="#2a2a2a" stroke-width="0.8" />
<line x1="707.2" y1="744" x2="708.8" y2="739.4" stroke="#1c1a1a" stroke-width="1.6" />
<text class="s" x="724.5" y="706.4" font-size="15.5" text-anchor="start" textLength="26.8" lengthAdjust="spacingAndGlyphs" >4-D8</text>
<g transform="translate(294.4 896.4) scale(1 1.01)">
<circle cx="0" cy="0" r="30.2" fill="none" stroke="#333" stroke-width="0.8" stroke-dasharray="5.5 2"/>
<path d="M-5.8 -19.4 A20.3 20.3 0 1 0 5.8 -19.4 V-22.2 H-5.8 Z" fill="#fff" stroke="#1c1a1a" stroke-width="1.5" />
<path d="M-6.8 -16.9 A18.2 18.2 0 1 0 6.8 -16.9" fill="none" stroke="#1c1a1a" stroke-width="1.0" />
<line x1="-21.5" y1="0" x2="21.5" y2="0" stroke="#444" stroke-width="0.8" />
<line x1="0" y1="-21" x2="0" y2="21" stroke="#444" stroke-width="0.8" />
<circle cx="0" cy="0" r="4.4" fill="#ccc" stroke="#1c1a1a" stroke-width="4.2" />
</g>
<line x1="258" y1="874" x2="285" y2="874" stroke="#5e5e5e" stroke-width="0.9" />
<line x1="258" y1="914.4" x2="294" y2="914.4" stroke="#5e5e5e" stroke-width="0.9" />
<line x1="259.4" y1="874" x2="259.4" y2="914.4" stroke="#5e5e5e" stroke-width="0.9" />
<polygon points="259.4,874 261.1,881 257.7,881" fill="#1c1a1a"/>
<polygon points="259.4,914.4 257.7,907.4 261.1,907.4" fill="#1c1a1a"/>
<text class="s" x="257.8" y="894.2" font-size="14" text-anchor="middle" textLength="9.5" lengthAdjust="spacingAndGlyphs" transform="rotate(-90 257.8 894.2)" >H</text>
<line x1="279" y1="866.4" x2="310" y2="866.4" stroke="#5e5e5e" stroke-width="0.9" />
<line x1="288.6" y1="863.5" x2="288.6" y2="872" stroke="#5e5e5e" stroke-width="0.6" stroke-dasharray="4 1.5"/>
<line x1="300.2" y1="863.5" x2="300.2" y2="872" stroke="#5e5e5e" stroke-width="0.6" stroke-dasharray="4 1.5"/>
<polygon points="288.6,866.4 282.4,868 282.4,864.8" fill="#1c1a1a"/>
<polygon points="300.2,866.4 306.4,864.8 306.4,868" fill="#1c1a1a"/>
<text class="s" x="294.6" y="864.2" font-size="14" text-anchor="middle" textLength="8.5" lengthAdjust="spacingAndGlyphs" >B</text>
<rect x="86.4" y="480.6" width="667.2" height="86.8" rx="0" fill="none" stroke="#5c5c5c" stroke-width="1.0" />
<line x1="86.4" y1="504.4" x2="753.6" y2="504.4" stroke="#5c5c5c" stroke-width="1.0" />
<line x1="86.4" y1="524.4" x2="753.6" y2="524.4" stroke="#5c5c5c" stroke-width="1.0" />
<line x1="86.4" y1="543.8" x2="753.6" y2="543.8" stroke="#5c5c5c" stroke-width="1.0" />
<line x1="125.76" y1="504.4" x2="125.76" y2="543.8" stroke="#5c5c5c" stroke-width="1.0" />
<line x1="165.12" y1="504.4" x2="165.12" y2="543.8" stroke="#5c5c5c" stroke-width="1.0" />
<line x1="204.48" y1="504.4" x2="204.48" y2="543.8" stroke="#5c5c5c" stroke-width="1.0" />
<line x1="243.84" y1="504.4" x2="243.84" y2="543.8" stroke="#5c5c5c" stroke-width="1.0" />
<line x1="283.2" y1="504.4" x2="283.2" y2="543.8" stroke="#5c5c5c" stroke-width="1.0" />
<line x1="322.56" y1="504.4" x2="322.56" y2="543.8" stroke="#5c5c5c" stroke-width="1.0" />
<line x1="361.92" y1="504.4" x2="361.92" y2="543.8" stroke="#5c5c5c" stroke-width="1.0" />
<line x1="401.28" y1="504.4" x2="401.28" y2="543.8" stroke="#5c5c5c" stroke-width="1.0" />
<line x1="440.64" y1="504.4" x2="440.64" y2="543.8" stroke="#5c5c5c" stroke-width="1.0" />
<line x1="480" y1="504.4" x2="480" y2="543.8" stroke="#5c5c5c" stroke-width="1.0" />
<line x1="519.36" y1="504.4" x2="519.36" y2="543.8" stroke="#5c5c5c" stroke-width="1.0" />
<line x1="558.72" y1="504.4" x2="558.72" y2="543.8" stroke="#5c5c5c" stroke-width="1.0" />
<line x1="598.08" y1="504.4" x2="598.08" y2="543.8" stroke="#5c5c5c" stroke-width="1.0" />
<line x1="637.44" y1="504.4" x2="637.44" y2="543.8" stroke="#5c5c5c" stroke-width="1.0" />
<line x1="676.8" y1="504.4" x2="676.8" y2="543.8" stroke="#5c5c5c" stroke-width="1.0" />
<line x1="716.16" y1="504.4" x2="716.16" y2="543.8" stroke="#5c5c5c" stroke-width="1.0" />
<text class="t" x="420.3" y="497.6" font-size="15.2" text-anchor="middle" textLength="69.5" lengthAdjust="spacingAndGlyphs" >PT-S9C-200</text>
<text class="t" x="106.28" y="518.7" font-size="13.1" text-anchor="middle" textLength="12" lengthAdjust="spacingAndGlyphs" >D1</text>
<text class="t" x="106.28" y="538.7" font-size="13.1" text-anchor="middle" textLength="12" lengthAdjust="spacingAndGlyphs" >90</text>
<text class="t" x="145.64" y="518.7" font-size="13.1" text-anchor="middle" textLength="12" lengthAdjust="spacingAndGlyphs" >D2</text>
<text class="t" x="145.64" y="538.7" font-size="13.1" text-anchor="middle" textLength="12" lengthAdjust="spacingAndGlyphs" >M6</text>
<text class="t" x="185" y="518.7" font-size="13.1" text-anchor="middle" textLength="12" lengthAdjust="spacingAndGlyphs" >D3</text>
<text class="t" x="185" y="538.7" font-size="13.1" text-anchor="middle" textLength="12" lengthAdjust="spacingAndGlyphs" >19</text>
<text class="t" x="224.36" y="518.7" font-size="13.1" text-anchor="middle" textLength="12" lengthAdjust="spacingAndGlyphs" >D4</text>
<text class="t" x="224.36" y="538.7" font-size="13.1" text-anchor="middle" textLength="12" lengthAdjust="spacingAndGlyphs" >70</text>
<text class="t" x="263.72" y="518.7" font-size="13.1" text-anchor="middle" textLength="12" lengthAdjust="spacingAndGlyphs" >D5</text>
<text class="t" x="263.72" y="538.7" font-size="13.1" text-anchor="middle" textLength="12" lengthAdjust="spacingAndGlyphs" >11</text>
<text class="t" x="303.08" y="518.7" font-size="13.1" text-anchor="middle" textLength="12" lengthAdjust="spacingAndGlyphs" >D6</text>
<text class="t" x="303.08" y="538.7" font-size="13.1" text-anchor="middle" textLength="12" lengthAdjust="spacingAndGlyphs" >50</text>
<text class="t" x="342.44" y="518.7" font-size="13.1" text-anchor="middle" textLength="12" lengthAdjust="spacingAndGlyphs" >D7</text>
<text class="t" x="342.44" y="538.7" font-size="13.1" text-anchor="middle" textLength="12" lengthAdjust="spacingAndGlyphs" >70</text>
<text class="t" x="381.8" y="518.7" font-size="13.1" text-anchor="middle" textLength="12" lengthAdjust="spacingAndGlyphs" >D8</text>
<text class="t" x="381.8" y="538.7" font-size="13.1" text-anchor="middle" textLength="12" lengthAdjust="spacingAndGlyphs" >M4</text>
<text class="t" x="421.16" y="518.7" font-size="13.1" text-anchor="middle" textLength="12" lengthAdjust="spacingAndGlyphs" >L1</text>
<text class="t" x="421.16" y="538.7" font-size="13.1" text-anchor="middle" textLength="12" lengthAdjust="spacingAndGlyphs" >26</text>
<text class="t" x="460.52" y="518.7" font-size="13.1" text-anchor="middle" textLength="12" lengthAdjust="spacingAndGlyphs" >L2</text>
<text class="t" x="460.52" y="538.7" font-size="13.1" text-anchor="middle" textLength="12" lengthAdjust="spacingAndGlyphs" >30</text>
<text class="t" x="499.88" y="518.7" font-size="13.1" text-anchor="middle" textLength="12" lengthAdjust="spacingAndGlyphs" >L3</text>
<text class="t" x="499.88" y="538.7" font-size="13.1" text-anchor="middle" textLength="12" lengthAdjust="spacingAndGlyphs" >50</text>
<text class="t" x="539.24" y="518.7" font-size="13.1" text-anchor="middle" textLength="12" lengthAdjust="spacingAndGlyphs" >L4</text>
<text class="t" x="539.24" y="538.7" font-size="13.1" text-anchor="middle" textLength="6" lengthAdjust="spacingAndGlyphs" >3</text>
<text class="t" x="578.6" y="518.7" font-size="13.1" text-anchor="middle" textLength="12" lengthAdjust="spacingAndGlyphs" >L5</text>
<text class="t" x="578.6" y="538.7" font-size="13.1" text-anchor="middle" textLength="30" lengthAdjust="spacingAndGlyphs" >139.5</text>
<text class="t" x="617.96" y="518.7" font-size="13.1" text-anchor="middle" textLength="12" lengthAdjust="spacingAndGlyphs" >A1</text>
<text class="t" x="617.96" y="538.7" font-size="13.1" text-anchor="middle" textLength="12" lengthAdjust="spacingAndGlyphs" >78</text>
<text class="t" x="657.32" y="518.7" font-size="13.1" text-anchor="middle" textLength="12" lengthAdjust="spacingAndGlyphs" >A2</text>
<text class="t" x="657.32" y="538.7" font-size="13.1" text-anchor="middle" textLength="12" lengthAdjust="spacingAndGlyphs" >60</text>
<text class="t" x="696.68" y="518.7" font-size="13.1" text-anchor="middle" textLength="6" lengthAdjust="spacingAndGlyphs" >B</text>
<text class="t" x="696.68" y="538.7" font-size="13.1" text-anchor="middle" textLength="6" lengthAdjust="spacingAndGlyphs" >6</text>
<text class="t" x="735.08" y="518.7" font-size="13.1" text-anchor="middle" textLength="6" lengthAdjust="spacingAndGlyphs" >H</text>
<text class="t" x="735.08" y="538.7" font-size="13.1" text-anchor="middle" textLength="24" lengthAdjust="spacingAndGlyphs" >21.5</text>
<text class="c" x="93.8" y="561.1" font-size="14.1">客户定制</text>
<rect x="86.4" y="947" width="667.2" height="87.4" rx="0" fill="none" stroke="#5c5c5c" stroke-width="1.0" />
<line x1="86.4" y1="970.6" x2="753.6" y2="970.6" stroke="#5c5c5c" stroke-width="1.0" />
<line x1="86.4" y1="990.4" x2="753.6" y2="990.4" stroke="#5c5c5c" stroke-width="1.0" />
<line x1="86.4" y1="1010.4" x2="753.6" y2="1010.4" stroke="#5c5c5c" stroke-width="1.0" />
<line x1="125.76" y1="970.6" x2="125.76" y2="1010.4" stroke="#5c5c5c" stroke-width="1.0" />
<line x1="165.12" y1="970.6" x2="165.12" y2="1010.4" stroke="#5c5c5c" stroke-width="1.0" />
<line x1="204.48" y1="970.6" x2="204.48" y2="1010.4" stroke="#5c5c5c" stroke-width="1.0" />
<line x1="243.84" y1="970.6" x2="243.84" y2="1010.4" stroke="#5c5c5c" stroke-width="1.0" />
<line x1="283.2" y1="970.6" x2="283.2" y2="1010.4" stroke="#5c5c5c" stroke-width="1.0" />
<line x1="322.56" y1="970.6" x2="322.56" y2="1010.4" stroke="#5c5c5c" stroke-width="1.0" />
<line x1="361.92" y1="970.6" x2="361.92" y2="1010.4" stroke="#5c5c5c" stroke-width="1.0" />
<line x1="401.28" y1="970.6" x2="401.28" y2="1010.4" stroke="#5c5c5c" stroke-width="1.0" />
<line x1="440.64" y1="970.6" x2="440.64" y2="1010.4" stroke="#5c5c5c" stroke-width="1.0" />
<line x1="480" y1="970.6" x2="480" y2="1010.4" stroke="#5c5c5c" stroke-width="1.0" />
<line x1="519.36" y1="970.6" x2="519.36" y2="1010.4" stroke="#5c5c5c" stroke-width="1.0" />
<line x1="558.72" y1="970.6" x2="558.72" y2="1010.4" stroke="#5c5c5c" stroke-width="1.0" />
<line x1="598.08" y1="970.6" x2="598.08" y2="1010.4" stroke="#5c5c5c" stroke-width="1.0" />
<line x1="637.44" y1="970.6" x2="637.44" y2="1010.4" stroke="#5c5c5c" stroke-width="1.0" />
<line x1="676.8" y1="970.6" x2="676.8" y2="1010.4" stroke="#5c5c5c" stroke-width="1.0" />
<line x1="716.16" y1="970.6" x2="716.16" y2="1010.4" stroke="#5c5c5c" stroke-width="1.0" />
<text class="t" x="420.3" y="964" font-size="15.2" text-anchor="middle" textLength="97.3" lengthAdjust="spacingAndGlyphs" >PT-5C、S9C-400</text>
<text class="t" x="106.28" y="984.9" font-size="13.1" text-anchor="middle" textLength="12" lengthAdjust="spacingAndGlyphs" >D1</text>
<text class="t" x="106.28" y="1005.6" font-size="13.1" text-anchor="middle" textLength="12" lengthAdjust="spacingAndGlyphs" >90</text>
<text class="t" x="145.64" y="984.9" font-size="13.1" text-anchor="middle" textLength="12" lengthAdjust="spacingAndGlyphs" >D2</text>
<text class="t" x="145.64" y="1005.6" font-size="13.1" text-anchor="middle" textLength="12" lengthAdjust="spacingAndGlyphs" >M6</text>
<text class="t" x="185" y="984.9" font-size="13.1" text-anchor="middle" textLength="12" lengthAdjust="spacingAndGlyphs" >D3</text>
<text class="t" x="185" y="1005.6" font-size="13.1" text-anchor="middle" textLength="12" lengthAdjust="spacingAndGlyphs" >19</text>
<text class="t" x="224.36" y="984.9" font-size="13.1" text-anchor="middle" textLength="12" lengthAdjust="spacingAndGlyphs" >D4</text>
<text class="t" x="224.36" y="1005.6" font-size="13.1" text-anchor="middle" textLength="12" lengthAdjust="spacingAndGlyphs" >70</text>
<text class="t" x="263.72" y="984.9" font-size="13.1" text-anchor="middle" textLength="12" lengthAdjust="spacingAndGlyphs" >D5</text>
<text class="t" x="263.72" y="1005.6" font-size="13.1" text-anchor="middle" textLength="12" lengthAdjust="spacingAndGlyphs" >14</text>
<text class="t" x="303.08" y="984.9" font-size="13.1" text-anchor="middle" textLength="12" lengthAdjust="spacingAndGlyphs" >D6</text>
<text class="t" x="303.08" y="1005.6" font-size="13.1" text-anchor="middle" textLength="12" lengthAdjust="spacingAndGlyphs" >50</text>
<text class="t" x="342.44" y="984.9" font-size="13.1" text-anchor="middle" textLength="12" lengthAdjust="spacingAndGlyphs" >D7</text>
<text class="t" x="342.44" y="1005.6" font-size="13.1" text-anchor="middle" textLength="12" lengthAdjust="spacingAndGlyphs" >70</text>
<text class="t" x="381.8" y="984.9" font-size="13.1" text-anchor="middle" textLength="12" lengthAdjust="spacingAndGlyphs" >D8</text>
<text class="t" x="381.8" y="1005.6" font-size="13.1" text-anchor="middle" textLength="12" lengthAdjust="spacingAndGlyphs" >M4</text>
<text class="t" x="421.16" y="984.9" font-size="13.1" text-anchor="middle" textLength="12" lengthAdjust="spacingAndGlyphs" >L1</text>
<text class="t" x="421.16" y="1005.6" font-size="13.1" text-anchor="middle" textLength="12" lengthAdjust="spacingAndGlyphs" >26</text>
<text class="t" x="460.52" y="984.9" font-size="13.1" text-anchor="middle" textLength="12" lengthAdjust="spacingAndGlyphs" >L2</text>
<text class="t" x="460.52" y="1005.6" font-size="13.1" text-anchor="middle" textLength="12" lengthAdjust="spacingAndGlyphs" >30</text>
<text class="t" x="499.88" y="984.9" font-size="13.1" text-anchor="middle" textLength="12" lengthAdjust="spacingAndGlyphs" >L3</text>
<text class="t" x="499.88" y="1005.6" font-size="13.1" text-anchor="middle" textLength="12" lengthAdjust="spacingAndGlyphs" >50</text>
<text class="t" x="539.24" y="984.9" font-size="13.1" text-anchor="middle" textLength="12" lengthAdjust="spacingAndGlyphs" >L4</text>
<text class="t" x="539.24" y="1005.6" font-size="13.1" text-anchor="middle" textLength="6" lengthAdjust="spacingAndGlyphs" >3</text>
<text class="t" x="578.6" y="984.9" font-size="13.1" text-anchor="middle" textLength="12" lengthAdjust="spacingAndGlyphs" >L5</text>
<text class="t" x="578.6" y="1005.6" font-size="13.1" text-anchor="middle" textLength="30" lengthAdjust="spacingAndGlyphs" >139.5</text>
<text class="t" x="617.96" y="984.9" font-size="13.1" text-anchor="middle" textLength="12" lengthAdjust="spacingAndGlyphs" >A1</text>
<text class="t" x="617.96" y="1005.6" font-size="13.1" text-anchor="middle" textLength="12" lengthAdjust="spacingAndGlyphs" >78</text>
<text class="t" x="657.32" y="984.9" font-size="13.1" text-anchor="middle" textLength="12" lengthAdjust="spacingAndGlyphs" >A2</text>
<text class="t" x="657.32" y="1005.6" font-size="13.1" text-anchor="middle" textLength="12" lengthAdjust="spacingAndGlyphs" >60</text>
<text class="t" x="696.68" y="984.9" font-size="13.1" text-anchor="middle" textLength="6" lengthAdjust="spacingAndGlyphs" >B</text>
<text class="t" x="696.68" y="1005.6" font-size="13.1" text-anchor="middle" textLength="6" lengthAdjust="spacingAndGlyphs" >6</text>
<text class="t" x="735.08" y="984.9" font-size="13.1" text-anchor="middle" textLength="6" lengthAdjust="spacingAndGlyphs" >H</text>
<text class="t" x="735.08" y="1005.6" font-size="13.1" text-anchor="middle" textLength="24" lengthAdjust="spacingAndGlyphs" >21.5</text>
<text class="c" x="93.8" y="1027.7" font-size="14.1">客户定制</text>
</svg>
</body>
</html>
